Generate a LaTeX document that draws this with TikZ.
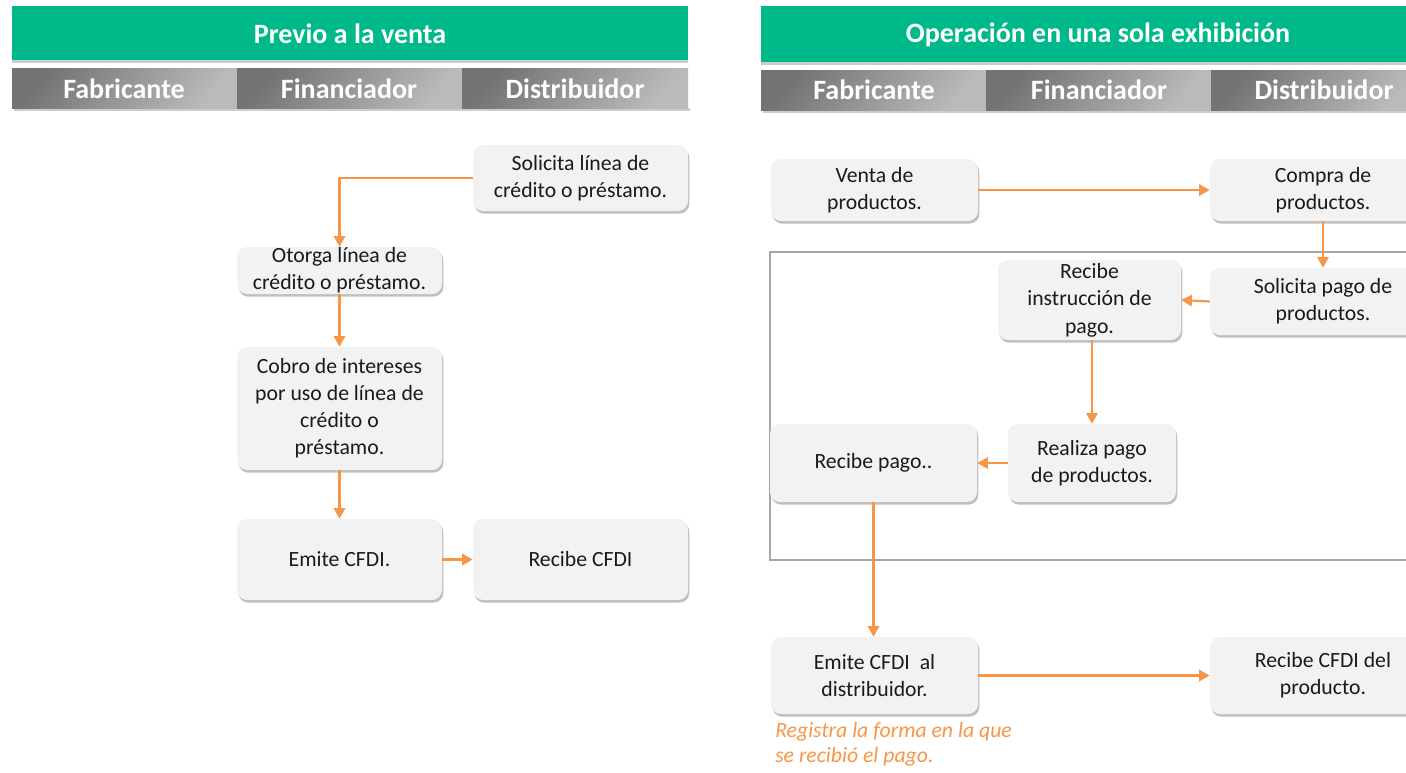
\documentclass[tikz,border=0pt]{standalone}
\usepackage{fontspec}
\setmainfont{Carlito}
\usetikzlibrary{arrows.meta,shadows}
\definecolor{hgreen}{HTML}{00B98A}
\definecolor{boxfill}{HTML}{F2F2F2}
\definecolor{arr}{HTML}{F79646}
\definecolor{frameg}{HTML}{A6A6A6}
\definecolor{txt}{HTML}{1A1A1A}
\tikzset{
  box/.style={draw=none, fill=boxfill, rounded corners=7.5pt, inner sep=0pt, align=center,
    font=\fontsize{16.3}{20.2}\selectfont, text=txt,
    drop shadow={shadow xshift=1pt, shadow yshift=-2pt, fill=black, opacity=0.25}},
  txtlab/.style={align=center, inner sep=0pt, font=\fontsize{16.3}{20.5}\selectfont, text=txt},
  flow/.style={draw=arr, line width=1.6pt, -{Triangle[length=8pt,width=8.5pt]}},
  gbar/.style={fill=hgreen, draw=none, drop shadow={shadow xshift=0pt, shadow yshift=-2pt, fill=black, opacity=0.2}},
  graybar/.style={left color=black!55, right color=black!27, shading angle=50, draw=none},
  htitle/.style={text=white, inner sep=0pt, font=\fontsize{21}{24}\selectfont\bfseries},
  hlabel/.style={text=white, inner sep=0pt, font=\fontsize{21}{24}\selectfont\bfseries},
}
\begin{document}
\begin{tikzpicture}[x=0.75pt,y=-0.75pt]
\clip (0,0) rectangle (1406,772);
\fill[white] (0,0) rectangle (1406,772);

% ---------- Left headers ----------
\path[gbar] (12,6) rectangle (688,60);
\node[htitle] (tL) at (350,34) {Previo a la venta};
\fill[black!20] (14,108) rectangle (690,111);
\path[graybar] (12,68) rectangle (237,108);
\path[graybar] (237,68) rectangle (462,108);
\path[graybar] (462,68) rectangle (688,108);
\node[hlabel] (lf) at (124,89) {Fabricante};
\node[hlabel] (lfi) at (349,89) {Financiador};
\node[hlabel] (ld) at (575,89) {Distribuidor};

% ---------- Right headers ----------
\path[gbar] (761,6) rectangle (1420,62);
\node[htitle] (tR) at (1098,35) {Operación en una sola exhibición};
\fill[black!20] (763,110) rectangle (1420,113);
\path[graybar] (761,70) rectangle (986,110);
\path[graybar] (986,70) rectangle (1211,110);
\path[graybar] (1211,70) rectangle (1420,110);
\node[hlabel] (rf) at (874,90) {Fabricante};
\node[hlabel] (rfi) at (1099,90) {Financiador};
\node[hlabel] (rd) at (1324,90) {Distribuidor};

% ---------- Left flow ----------
\node[box, minimum width=161.25pt, minimum height=49.5pt] (sol) at (580.5,178) {Solicita línea de\\crédito o préstamo.};
\node[box, minimum width=153.75pt, minimum height=35.25pt,
  label={[txtlab]center:Otorga línea de\\crédito o préstamo.}] (oto) at (339.5,270.5) {};
\node[box, minimum width=153.75pt, minimum height=92.25pt] (cob) at (339.5,408.5) {Cobro de intereses\\por uso de línea de\\crédito o\\préstamo.};
\node[box, minimum width=153.75pt, minimum height=60.75pt] (emi) at (339.5,559.5) {Emite CFDI.};
\node[box, minimum width=161.25pt, minimum height=60.75pt] (rec) at (580.5,559.5) {Recibe CFDI};

\draw[flow] (sol.west) -| (oto.north);
\draw[flow] (oto.south) -- (cob.north);
\draw[flow] (cob.south) -- (emi.north);
\draw[flow] (emi.east) -- (rec.west);

% ---------- Right flow ----------
\draw[frameg, line width=0.9pt] (770,252) rectangle (1420,560);
\node[box, minimum width=155.25pt, minimum height=46.5pt] (ven) at (874.5,190) {Venta de\\productos.};
\node[box, minimum width=169.5pt, minimum height=46.5pt] (com) at (1323,190) {Compra de\\productos.};
\node[box, minimum width=137.25pt, minimum height=60pt,
  label={[txtlab]center:Recibe\\instrucción de\\pago.}] (ri) at (1089.5,300) {};
\node[box, minimum width=169.5pt, minimum height=50.25pt] (sp) at (1323,301.5) {Solicita pago de\\productos.};
\node[box, minimum width=126pt, minimum height=58.5pt] (re) at (1092,463) {Realiza pago\\de productos.};
\node[box, minimum width=155.25pt, minimum height=58.5pt] (rp) at (873.5,463) {Recibe pago..};
\node[box, minimum width=155.25pt, minimum height=57.75pt] (ec) at (874.5,675.5) {Emite CFDI\ \ al\\distribuidor.};
\node[box, minimum width=169.5pt, minimum height=57.75pt] (rc) at (1323,675.5) {Recibe CFDI del\\producto.};
\node[anchor=north west, align=left, inner sep=0pt, text=arr,
  font=\fontsize{16.3}{19}\selectfont\itshape] (note) at (775,722) {Registra la forma en la que\\se recibió el pago.};

\draw[flow] (ven.east) -- (com.west);
\draw[flow] (com.south) -- (sp.north);
\draw[flow] (sp.west) -- (ri.east);
\draw[flow] (re.north |- ri.south) -- (re.north);
\draw[flow] (re.west) -- (rp.east);
\draw[flow] (rp.south) -- (rp.south |- ec.north);
\draw[flow] (ec.east) -- (rc.west);
\end{tikzpicture}
\end{document}
